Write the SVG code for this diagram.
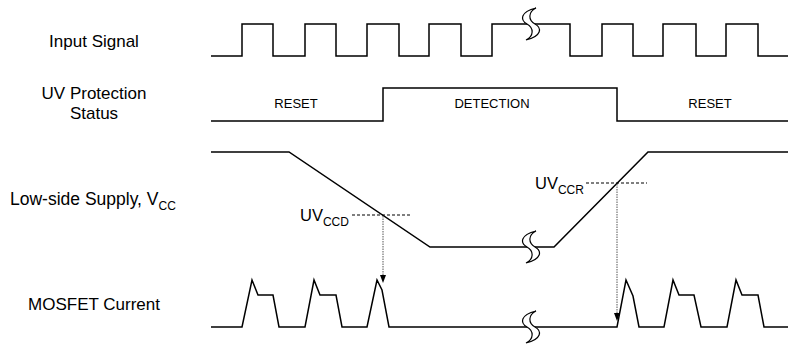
<svg xmlns="http://www.w3.org/2000/svg" width="795" height="349" viewBox="0 0 795 349">
<style>
.lbl{font-family:"Liberation Sans",Arial,sans-serif;font-size:17px;fill:#000;text-anchor:middle}
.st{font-family:"Liberation Sans",Arial,sans-serif;font-size:13px;fill:#000;text-anchor:middle}
.uv{font-family:"Liberation Sans",Arial,sans-serif;font-size:16.5px;fill:#000}
.sub{font-size:12px}
.wave{fill:none;stroke:#000;stroke-width:1.5;stroke-linejoin:miter}
.dash{fill:none;stroke:#000;stroke-width:1.2;stroke-dasharray:3,2}
.dot{fill:none;stroke:#555;stroke-width:1;stroke-dasharray:1.5,1}
.brk{fill:#fff;stroke:#000;stroke-width:1.2}
</style>
<defs>
<path id="brkS" d="M5,-16 C-11,-12 -11,-4 -4,0 C3,4 3,12 -5,16 C11,12 11,4 4,0 C-3,-4 -3,-12 5,-16 Z"/>
</defs>
<rect width="795" height="349" fill="#fff"/>

<g id="labels">
<text class="lbl" x="94" y="47">Input Signal</text>
<text class="lbl" x="94" y="99">UV Protection</text>
<text class="lbl" x="94" y="119">Status</text>
<text class="lbl" x="10" y="205" style="text-anchor:start;font-size:17.5px">Low-side Supply, V<tspan class="sub" dy="5">CC</tspan></text>
<text class="lbl" x="94" y="310">MOSFET Current</text>
</g>

<g id="input-signal">
<path class="wave" d="M211,56 H242 V24 H273 V56 H305 V24 H336 V56 H367 V24 H399 V56 H429 V24 H461 V56 H492 V24 H528 M534,24 H570 V56 H602 V24 H633 V56 H663 V24 H696 V56 H726 V24 H758 V56 H788"/>
<use href="#brkS" class="brk" transform="translate(531,24)"/>
</g>

<g id="uv-status">
<path class="wave" d="M211,121 H383 V88 H617 V121 H788"/>
<text class="st" x="296" y="108">RESET</text>
<text class="st" x="492" y="108">DETECTION</text>
<text class="st" x="710" y="108">RESET</text>
</g>

<g id="vcc">
<path class="wave" d="M211,152 H289 L430,247 H528 M534,247 H554 L648,152 H788"/>
<use href="#brkS" class="brk" transform="translate(531,247)"/>
<text class="uv" x="300" y="221">UV<tspan class="sub" dy="5">CCD</tspan></text>
<text class="uv" x="535" y="189">UV<tspan class="sub" dy="5">CCR</tspan></text>
</g>

<g id="mosfet-current">
<path class="wave" d="M211,327 H242 L252,280 L258,295 H273 L279,327 H305 L314,280 L320,295 H336 L342,327 H367 L377,280 L382,290 L389,327 H528 M534,327 H617 L626,280 L633,296 L639,327 H664 L673,280 L679,295 H694 L701,327 H727 L736,280 L742,295 H758 L764,327 H788"/>
<use href="#brkS" class="brk" transform="translate(531,327)"/>
</g>

<g id="connectors">
<path class="dash" d="M352,215 H412"/>
<path class="dash" d="M586,183 H647"/>
<path class="dot" d="M383,216 V276"/>
<path d="M380,275 L386,275 L383,283 Z" fill="#000"/>
<path class="dot" d="M617,184 V314"/>
<path d="M614,313 L620,313 L617,321 Z" fill="#000"/>
</g>
</svg>
